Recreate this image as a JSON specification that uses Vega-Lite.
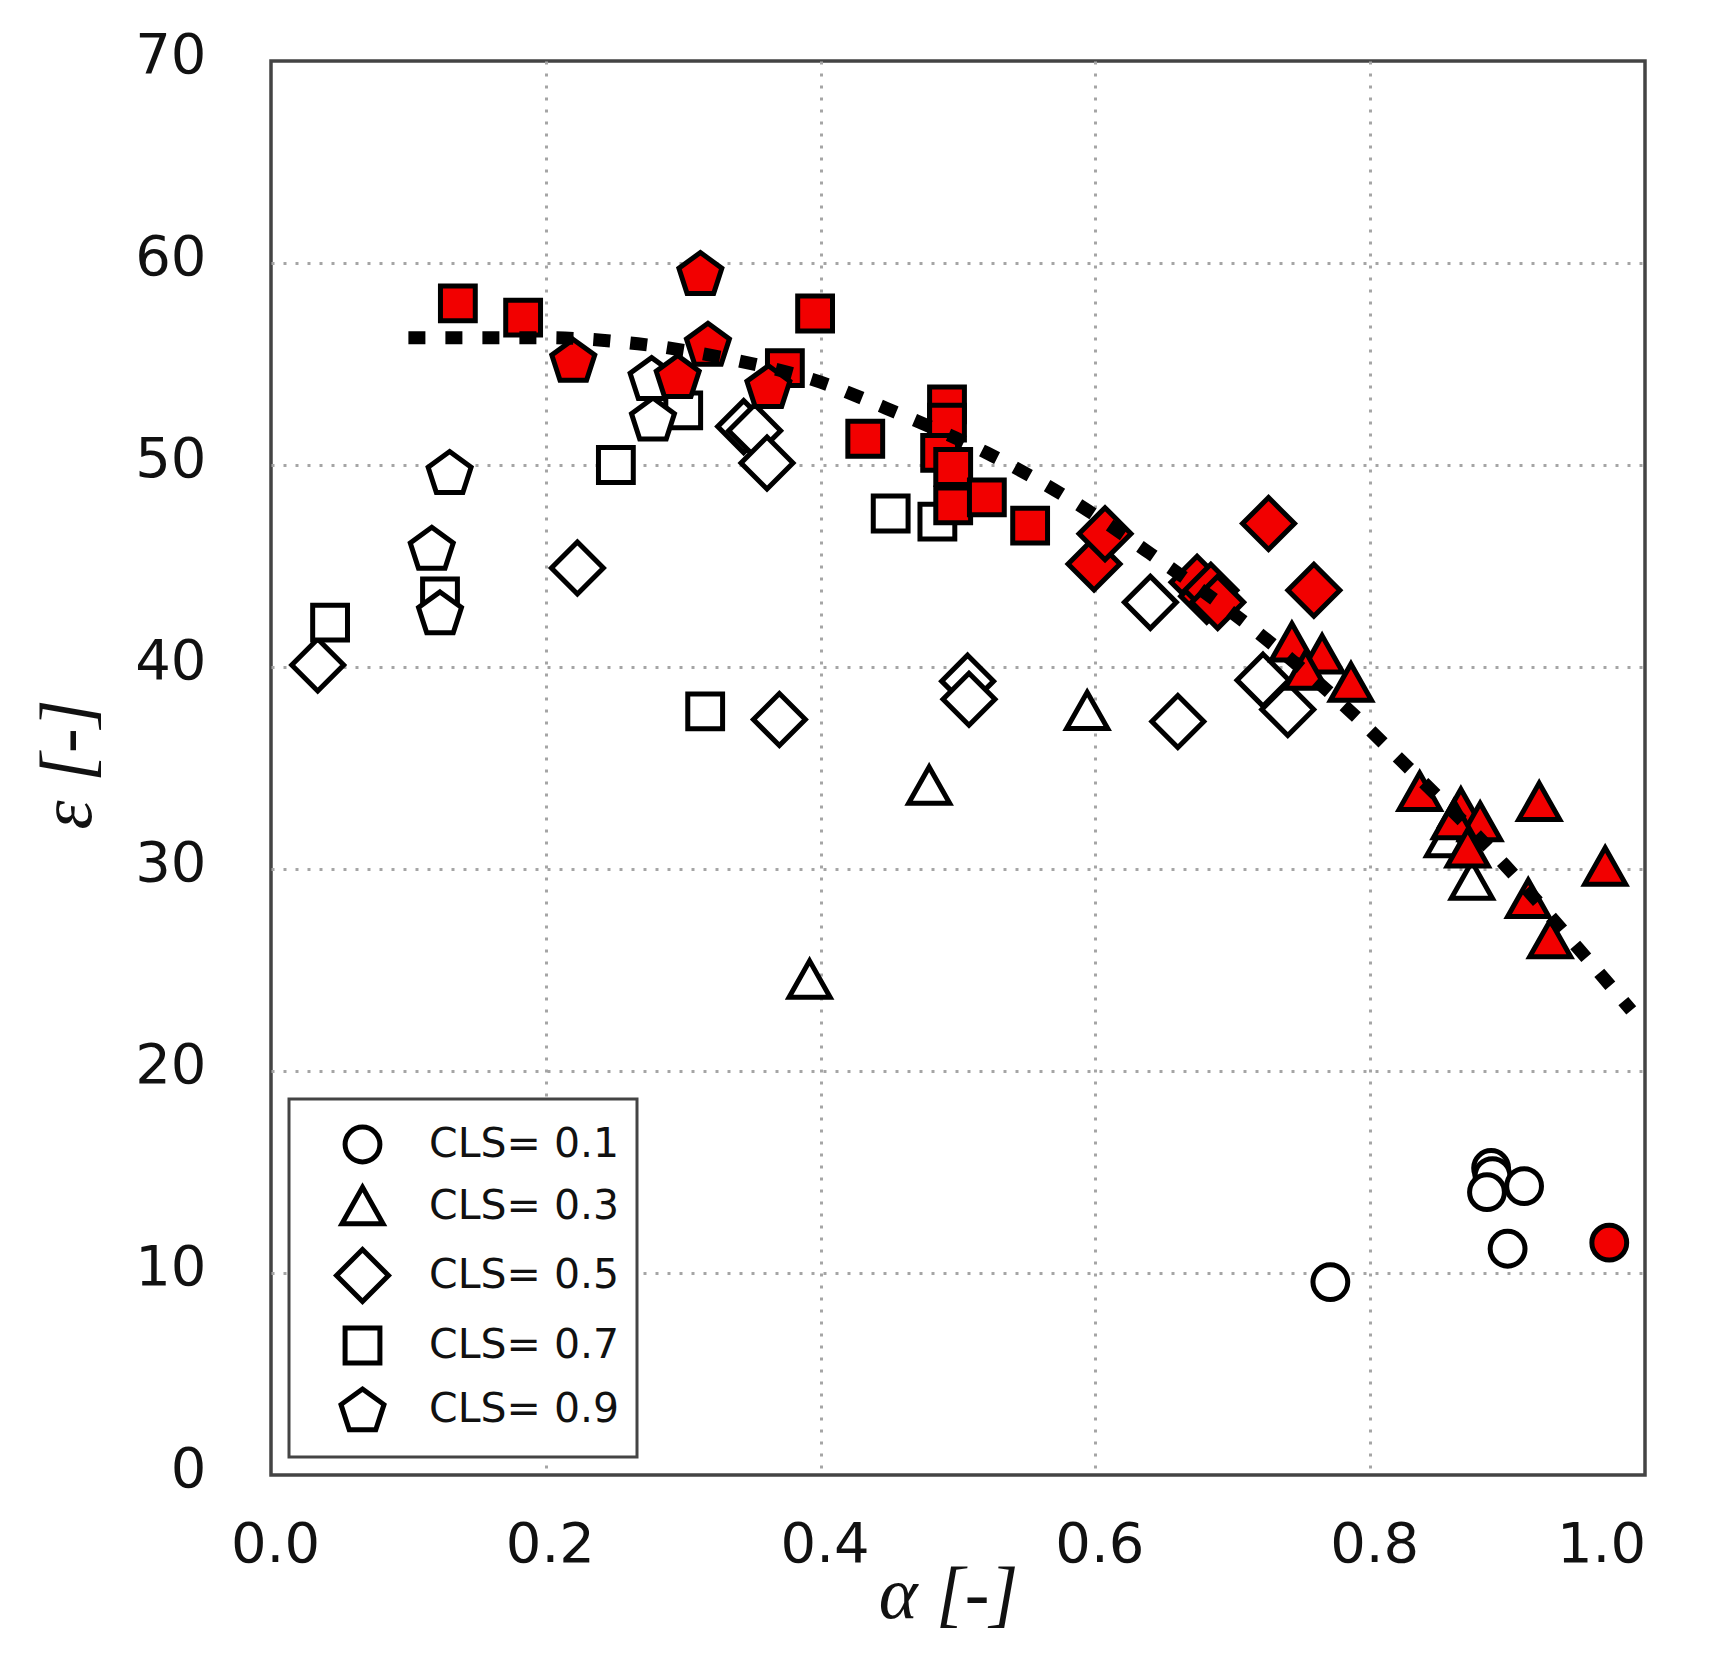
{
  "$schema": "https://vega.github.io/schema/vega-lite/v6.json",
  "width": 1374,
  "height": 1414,
  "autosize": "none",
  "padding": {"left": 271, "top": 61, "right": 64, "bottom": 184},
  "background": "white",
  "datasets": {
    "points": [
      {"alpha": 0.771, "eps": 9.55, "CLS": "0.1", "kind": "open"},
      {"alpha": 0.888, "eps": 15.2, "CLS": "0.1", "kind": "open"},
      {"alpha": 0.889, "eps": 14.8, "CLS": "0.1", "kind": "open"},
      {"alpha": 0.885, "eps": 14.0, "CLS": "0.1", "kind": "open"},
      {"alpha": 0.912, "eps": 14.3, "CLS": "0.1", "kind": "open"},
      {"alpha": 0.900, "eps": 11.2, "CLS": "0.1", "kind": "open"},
      {"alpha": 0.392, "eps": 24.5, "CLS": "0.3", "kind": "open"},
      {"alpha": 0.479, "eps": 34.1, "CLS": "0.3", "kind": "open"},
      {"alpha": 0.594, "eps": 37.8, "CLS": "0.3", "kind": "open"},
      {"alpha": 0.874, "eps": 29.4, "CLS": "0.3", "kind": "open"},
      {"alpha": 0.856, "eps": 31.5, "CLS": "0.3", "kind": "open"},
      {"alpha": 0.034, "eps": 40.1, "CLS": "0.5", "kind": "open"},
      {"alpha": 0.223, "eps": 44.9, "CLS": "0.5", "kind": "open"},
      {"alpha": 0.344, "eps": 51.9, "CLS": "0.5", "kind": "open"},
      {"alpha": 0.352, "eps": 51.7, "CLS": "0.5", "kind": "open"},
      {"alpha": 0.361, "eps": 50.1, "CLS": "0.5", "kind": "open"},
      {"alpha": 0.370, "eps": 37.4, "CLS": "0.5", "kind": "open"},
      {"alpha": 0.507, "eps": 39.3, "CLS": "0.5", "kind": "open"},
      {"alpha": 0.508, "eps": 38.4, "CLS": "0.5", "kind": "open"},
      {"alpha": 0.640, "eps": 43.2, "CLS": "0.5", "kind": "open"},
      {"alpha": 0.660, "eps": 37.3, "CLS": "0.5", "kind": "open"},
      {"alpha": 0.722, "eps": 39.35, "CLS": "0.5", "kind": "open"},
      {"alpha": 0.740, "eps": 37.9, "CLS": "0.5", "kind": "open"},
      {"alpha": 0.043, "eps": 42.2, "CLS": "0.7", "kind": "open"},
      {"alpha": 0.123, "eps": 43.5, "CLS": "0.7", "kind": "open"},
      {"alpha": 0.251, "eps": 50.0, "CLS": "0.7", "kind": "open"},
      {"alpha": 0.300, "eps": 52.7, "CLS": "0.7", "kind": "open"},
      {"alpha": 0.316, "eps": 37.8, "CLS": "0.7", "kind": "open"},
      {"alpha": 0.451, "eps": 47.6, "CLS": "0.7", "kind": "open"},
      {"alpha": 0.485, "eps": 47.2, "CLS": "0.7", "kind": "open"},
      {"alpha": 0.130, "eps": 49.65, "CLS": "0.9", "kind": "open"},
      {"alpha": 0.117, "eps": 45.9, "CLS": "0.9", "kind": "open"},
      {"alpha": 0.123, "eps": 42.7, "CLS": "0.9", "kind": "open"},
      {"alpha": 0.278, "eps": 52.3, "CLS": "0.9", "kind": "open"},
      {"alpha": 0.277, "eps": 54.3, "CLS": "0.9", "kind": "open"},
      {"alpha": 0.974, "eps": 11.5, "CLS": "0.1", "kind": "filled"},
      {"alpha": 0.743, "eps": 41.2, "CLS": "0.3", "kind": "filled"},
      {"alpha": 0.765, "eps": 40.6, "CLS": "0.3", "kind": "filled"},
      {"alpha": 0.753, "eps": 39.8, "CLS": "0.3", "kind": "filled"},
      {"alpha": 0.786, "eps": 39.2, "CLS": "0.3", "kind": "filled"},
      {"alpha": 0.836, "eps": 33.8, "CLS": "0.3", "kind": "filled"},
      {"alpha": 0.866, "eps": 33.0, "CLS": "0.3", "kind": "filled"},
      {"alpha": 0.880, "eps": 32.3, "CLS": "0.3", "kind": "filled"},
      {"alpha": 0.861, "eps": 32.4, "CLS": "0.3", "kind": "filled"},
      {"alpha": 0.871, "eps": 31.0, "CLS": "0.3", "kind": "filled"},
      {"alpha": 0.923, "eps": 33.3, "CLS": "0.3", "kind": "filled"},
      {"alpha": 0.971, "eps": 30.1, "CLS": "0.3", "kind": "filled"},
      {"alpha": 0.915, "eps": 28.5, "CLS": "0.3", "kind": "filled"},
      {"alpha": 0.931, "eps": 26.5, "CLS": "0.3", "kind": "filled"},
      {"alpha": 0.599, "eps": 45.1, "CLS": "0.5", "kind": "filled"},
      {"alpha": 0.607, "eps": 46.6, "CLS": "0.5", "kind": "filled"},
      {"alpha": 0.674, "eps": 44.2, "CLS": "0.5", "kind": "filled"},
      {"alpha": 0.681, "eps": 43.5, "CLS": "0.5", "kind": "filled"},
      {"alpha": 0.684, "eps": 43.8, "CLS": "0.5", "kind": "filled"},
      {"alpha": 0.689, "eps": 43.2, "CLS": "0.5", "kind": "filled"},
      {"alpha": 0.726, "eps": 47.1, "CLS": "0.5", "kind": "filled"},
      {"alpha": 0.759, "eps": 43.8, "CLS": "0.5", "kind": "filled"},
      {"alpha": 0.136, "eps": 58.0, "CLS": "0.7", "kind": "filled"},
      {"alpha": 0.1835, "eps": 57.3, "CLS": "0.7", "kind": "filled"},
      {"alpha": 0.396, "eps": 57.5, "CLS": "0.7", "kind": "filled"},
      {"alpha": 0.374, "eps": 54.8, "CLS": "0.7", "kind": "filled"},
      {"alpha": 0.4325, "eps": 51.3, "CLS": "0.7", "kind": "filled"},
      {"alpha": 0.492, "eps": 53.0, "CLS": "0.7", "kind": "filled"},
      {"alpha": 0.492, "eps": 52.1, "CLS": "0.7", "kind": "filled"},
      {"alpha": 0.487, "eps": 50.6, "CLS": "0.7", "kind": "filled"},
      {"alpha": 0.4965, "eps": 49.9, "CLS": "0.7", "kind": "filled"},
      {"alpha": 0.4965, "eps": 48.0, "CLS": "0.7", "kind": "filled"},
      {"alpha": 0.521, "eps": 48.4, "CLS": "0.7", "kind": "filled"},
      {"alpha": 0.5525, "eps": 47.0, "CLS": "0.7", "kind": "filled"},
      {"alpha": 0.3125, "eps": 59.5, "CLS": "0.9", "kind": "filled"},
      {"alpha": 0.220, "eps": 55.2, "CLS": "0.9", "kind": "filled"},
      {"alpha": 0.318, "eps": 56.0, "CLS": "0.9", "kind": "filled"},
      {"alpha": 0.296, "eps": 54.4, "CLS": "0.9", "kind": "filled"},
      {"alpha": 0.362, "eps": 53.9, "CLS": "0.9", "kind": "filled"}
    ],
    "curve": [
      {"alpha": 0.1, "eps": 56.3},
      {"alpha": 0.2, "eps": 56.3},
      {"alpha": 0.267, "eps": 56.0},
      {"alpha": 0.33, "eps": 55.3},
      {"alpha": 0.40, "eps": 54.1},
      {"alpha": 0.448, "eps": 52.8},
      {"alpha": 0.521, "eps": 50.6},
      {"alpha": 0.591, "eps": 47.9},
      {"alpha": 0.636, "eps": 45.8},
      {"alpha": 0.722, "eps": 41.5},
      {"alpha": 0.784, "eps": 37.9},
      {"alpha": 0.822, "eps": 35.4},
      {"alpha": 0.898, "eps": 30.2},
      {"alpha": 0.951, "eps": 26.1},
      {"alpha": 0.99, "eps": 23.0}
    ]
  },
  "layer": [
    {
      "data": {"name": "points"},
      "mark": {"type": "point", "filled": true, "stroke": "black", "strokeWidth": 5, "opacity": 1, "size": 2700},
      "encoding": {
        "x": {
          "field": "alpha", "type": "quantitative",
          "scale": {"domain": [0, 1], "nice": false},
          "axis": {
            "title": "α [-]",
            "values": [0, 0.2, 0.4, 0.6, 0.8, 1.0],
            "format": ".1f",
            "labelFlush": false,
            "labelPadding": 42,
            "labelOffset": {"condition": {"test": "datum.value == 1", "value": -44}, "value": 4},
            "gridOpacity": {"condition": {"test": "datum.value == 0 || datum.value == 1", "value": 0}, "value": 1},
            "titleX": 677,
            "titleY": 120,
            "titleBaseline": "middle"
          }
        },
        "y": {
          "field": "eps", "type": "quantitative",
          "scale": {"domain": [0, 70], "nice": false},
          "axis": {
            "title": "ε [-]",
            "values": [0, 10, 20, 30, 40, 50, 60, 70],
            "labelPadding": 65,
            "labelOffset": -6,
            "gridOpacity": {"condition": {"test": "datum.value == 0 || datum.value == 70", "value": 0}, "value": 1},
            "titleX": -203,
            "titleY": 703,
            "titleBaseline": "middle"
          }
        },
        "shape": {
          "field": "CLS", "type": "nominal",
          "scale": {
            "domain": ["0.1", "0.3", "0.5", "0.7", "0.9"],
            "range": [
              "M0.67,0A0.67,0.67 0 1,1 -0.67,0A0.67,0.67 0 1,1 0.67,0Z",
              "M0,-0.74L0.79,0.66L-0.79,0.66Z",
              "M0,-1L1,0L0,1L-1,0Z",
              "M-0.67,-0.67L0.67,-0.67L0.67,0.67L-0.67,0.67Z",
              "M0,-0.79L0.827,-0.189L0.511,0.784L-0.511,0.784L-0.827,-0.189Z"
            ]
          },
          "legend": {
            "title": null,
            "orient": "bottom-left",
            "offset": 18,
            "labelExpr": "'CLS= ' + datum.label",
            "symbolFillColor": "white",
            "symbolStrokeColor": "black",
            "symbolStrokeWidth": 5,
            "symbolSize": 2700,
            "symbolOffset": 28,
            "labelOffset": 38
          }
        },
        "fill": {
          "field": "kind", "type": "nominal",
          "scale": {"domain": ["open", "filled"], "range": ["white", "#f20000"]},
          "legend": null
        }
      }
    },
    {
      "data": {"name": "curve"},
      "mark": {"type": "line", "color": "black", "strokeWidth": 13, "strokeDash": [17, 20], "strokeCap": "butt", "interpolate": "monotone"},
      "encoding": {
        "x": {"field": "alpha", "type": "quantitative"},
        "y": {"field": "eps", "type": "quantitative"}
      }
    }
  ],
  "config": {
    "view": {"stroke": "#444444", "strokeWidth": 3.5},
    "axis": {
      "domain": false,
      "ticks": false,
      "grid": true,
      "gridColor": "#a5a5a5",
      "gridDash": [3, 9],
      "gridWidth": 3,
      "labelFont": "DejaVu Sans",
      "labelFontSize": 56,
      "labelColor": "#111111",
      "titleFont": "Liberation Serif",
      "titleFontStyle": "italic",
      "titleFontWeight": "normal",
      "titleFontSize": 74,
      "titleColor": "#111111"
    },
    "legend": {
      "labelFont": "DejaVu Sans",
      "labelFontSize": 41,
      "labelColor": "#111111",
      "labelLimit": 500,
      "padding": 17,
      "rowPadding": 5,
      "strokeColor": "#444444",
      "strokeWidth": 3,
      "fillColor": "white"
    }
  }
}
